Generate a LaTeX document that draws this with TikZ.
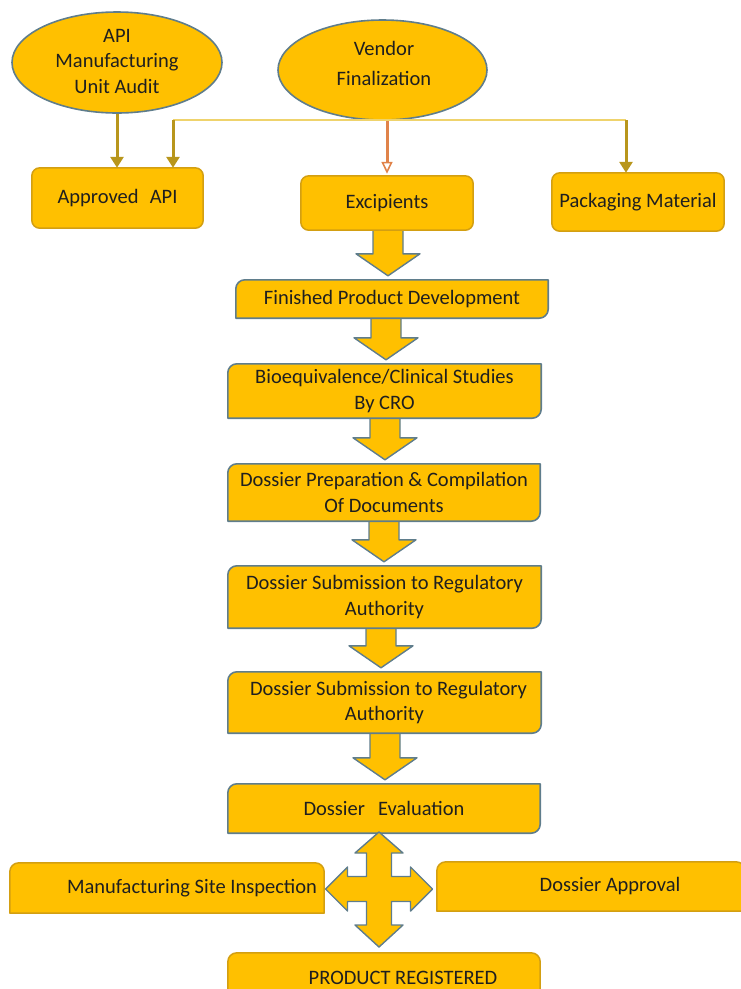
\documentclass[tikz,border=0pt]{standalone}
\usepackage{fontspec}
\setmainfont{Carlito}
\usetikzlibrary{shapes.geometric,backgrounds,calc,arrows.meta}

\definecolor{gold}{HTML}{FFC000}
\definecolor{slate}{HTML}{5F7D8C}
\definecolor{amber}{HTML}{D39F12}
\definecolor{olive}{HTML}{B8961C}
\definecolor{pale}{HTML}{EFD36C}
\definecolor{rust}{HTML}{E0834A}
\definecolor{ink}{HTML}{1F1F1F}

\tikzset{
  x=1pt, y=-1pt,
  txt/.style={text=ink, align=center, inner sep=0pt,
    font=\fontsize{20.5}{25.5}\selectfont},
  stepbox/.style={txt, draw=none},
  oval/.style={ellipse, fill=gold, draw=slate, line width=1.6pt, inner sep=0pt},
  edgeslate/.style={fill=gold, draw=slate, line width=1.6pt, line join=round},
  edgeamber/.style={fill=gold, draw=amber, line width=1.5pt, line join=round},
  feed/.style={draw=olive, line width=3pt,
    -{Triangle[width=13pt,length=11pt,fill=olive]}},
  openfeed/.style={draw=rust, line width=3pt,
    -{Triangle[open,width=11pt,length=12pt,fill=white,line width=1.6pt]}},
  busline/.style={draw=pale, line width=2.2pt},
}

% rounded rectangle around a node
\newcommand{\roundall}[2]{\draw[#2, rounded corners=8pt] (#1.north west) rectangle (#1.south east);}
% top-left and bottom-right corners rounded
\newcommand{\rounddiag}[2]{\draw[#2] (#1.west) [rounded corners=9pt] -- (#1.north west) -- (#1.north)
  [sharp corners] -- (#1.north east) -- (#1.east)
  [rounded corners=9pt] -- (#1.south east) -- (#1.south)
  [sharp corners] -- (#1.south west) -- cycle;}
% both top corners rounded
\newcommand{\roundtop}[2]{\draw[#2] (#1.west) [rounded corners=9pt] -- (#1.north west) -- (#1.north east) -- (#1.east)
  [sharp corners] -- (#1.south east) -- (#1.south west) -- cycle;}
% block arrow pointing down from one node to the next
\newcommand{\flowdown}[3]{\draw[edgeslate, line width=1.4pt] let \p1=(#1.south), \p2=(#2.north) in
  ({#3pt-15pt},{\y1+3pt}) -- ({#3pt-15pt},{\y2+26pt}) -- ({#3pt-32pt},{\y2+26pt})
  -- ({#3pt},{\y2+4pt}) -- ({#3pt+32pt},{\y2+26pt}) -- ({#3pt+15pt},{\y2+26pt})
  -- ({#3pt+15pt},{\y1+3pt}) -- cycle;}

\begin{document}
\begin{tikzpicture}
\useasboundingbox (0,0) rectangle (740,989);

% ovals
\node[oval, minimum width=210pt, minimum height=101pt] (audit) at (117,62.5) {};
\node[txt] (audittext) at (117,61) {API\\Manufacturing\\Unit Audit};
\node[oval, minimum width=209pt, minimum height=100pt] (vendor) at (382.5,70) {};
\node[txt, font=\fontsize{20.5}{30}\selectfont] (vendortext) at (384,63) {Vendor\\Finalization};

% supply boxes
\node[stepbox, minimum width=171pt, minimum height=60pt] (api) at (117.5,198) {Approved\hspace{0.55em}API};
\node[stepbox, minimum width=172pt, minimum height=54pt] (exc) at (387,203) {Excipients};
\node[stepbox, minimum width=172pt, minimum height=58pt] (pkg) at (638,202) {Packaging Material};

% main flow
\node[stepbox, minimum width=312pt, minimum height=38pt] (fpd) at (392,299) {Finished Product Development};
\node[stepbox, minimum width=313pt, minimum height=54pt] (bio) at (384.5,391) {Bioequivalence/Clinical Studies\\By CRO};
\node[stepbox, minimum width=312pt, minimum height=57pt] (prep) at (384,492.5) {Dossier Preparation \& Compilation\\Of Documents};
\node[stepbox, minimum width=313pt, minimum height=62pt] (subA) at (384.5,597) {Dossier Submission to Regulatory\\Authority};
\node[stepbox, minimum width=313pt, minimum height=61pt] (subB) at (384.5,702.5) {\hspace*{8pt}Dossier Submission to Regulatory\\Authority};
\node[stepbox, minimum width=312pt, minimum height=49pt] (eval) at (384,808.5) {Dossier\hspace{13pt}Evaluation};
\node[stepbox, minimum width=314pt, minimum height=50pt] (site) at (167,888) {\hspace*{50pt}Manufacturing Site Inspection};
\node[stepbox, minimum width=308pt, minimum height=49pt] (appr) at (591,886.5) {\hspace*{38pt}Dossier Approval};
\node[stepbox, minimum width=312pt, minimum height=46pt, text depth=0pt] (reg) at (384,976) {};
\node[txt] (regtext) at (403,978) {PRODUCT REGISTERED};

\coordinate (hub) at (379,889);
\coordinate (busL) at (173,120);
\coordinate (busR) at (626,120);

\begin{scope}[on background layer]
  % block arrows, drawn under the boxes
  \flowdown{exc}{fpd}{388}
  \flowdown{fpd}{bio}{386}
  \flowdown{bio}{prep}{385}
  \flowdown{prep}{subA}{384}
  \flowdown{subA}{subB}{381}
  \flowdown{subB}{eval}{385}

  \roundall{api}{edgeamber}
  \roundall{exc}{edgeamber}
  \roundall{pkg}{edgeamber}
  \rounddiag{fpd}{edgeslate}
  \rounddiag{bio}{edgeslate}
  \rounddiag{prep}{edgeslate}
  \rounddiag{subA}{edgeslate}
  \rounddiag{subB}{edgeslate}
  \rounddiag{eval}{edgeslate}
  \roundtop{site}{edgeamber}
  \roundtop{appr}{edgeamber}
  \roundtop{reg}{edgeamber}

  % four-way arrow between evaluation, inspection, approval and registration
  \begin{scope}[shift={(hub)}]
    \draw[edgeslate, line width=1.4pt] (0,-57) -- (24,-36) -- (12.5,-36) -- (12.5,-12.5)
      -- (31.5,-12.5) -- (31.5,-22) -- (53.5,0) -- (31.5,22) -- (31.5,12.5)
      -- (12.5,12.5) -- (12.5,36) -- (24,36) -- (0,58) -- (-24,36) -- (-12.5,36)
      -- (-12.5,12.5) -- (-31.5,12.5) -- (-31.5,22) -- (-53.5,0) -- (-31.5,-22)
      -- (-31.5,-12.5) -- (-12.5,-12.5) -- (-12.5,-36) -- (-24,-36) -- cycle;
  \end{scope}
\end{scope}

% feeding connectors at the top
\draw[busline] (busL) -- (busR);
\draw[feed] (audit.south) -- (audit.south |- api.north);
\draw[feed] (busL) -- (busL |- api.north);
\draw[feed] (busR) -- (busR |- pkg.north);
\draw[openfeed] (vendor.south -| exc.north) -- ([yshift=2pt]exc.north);
\end{tikzpicture}
\end{document}
